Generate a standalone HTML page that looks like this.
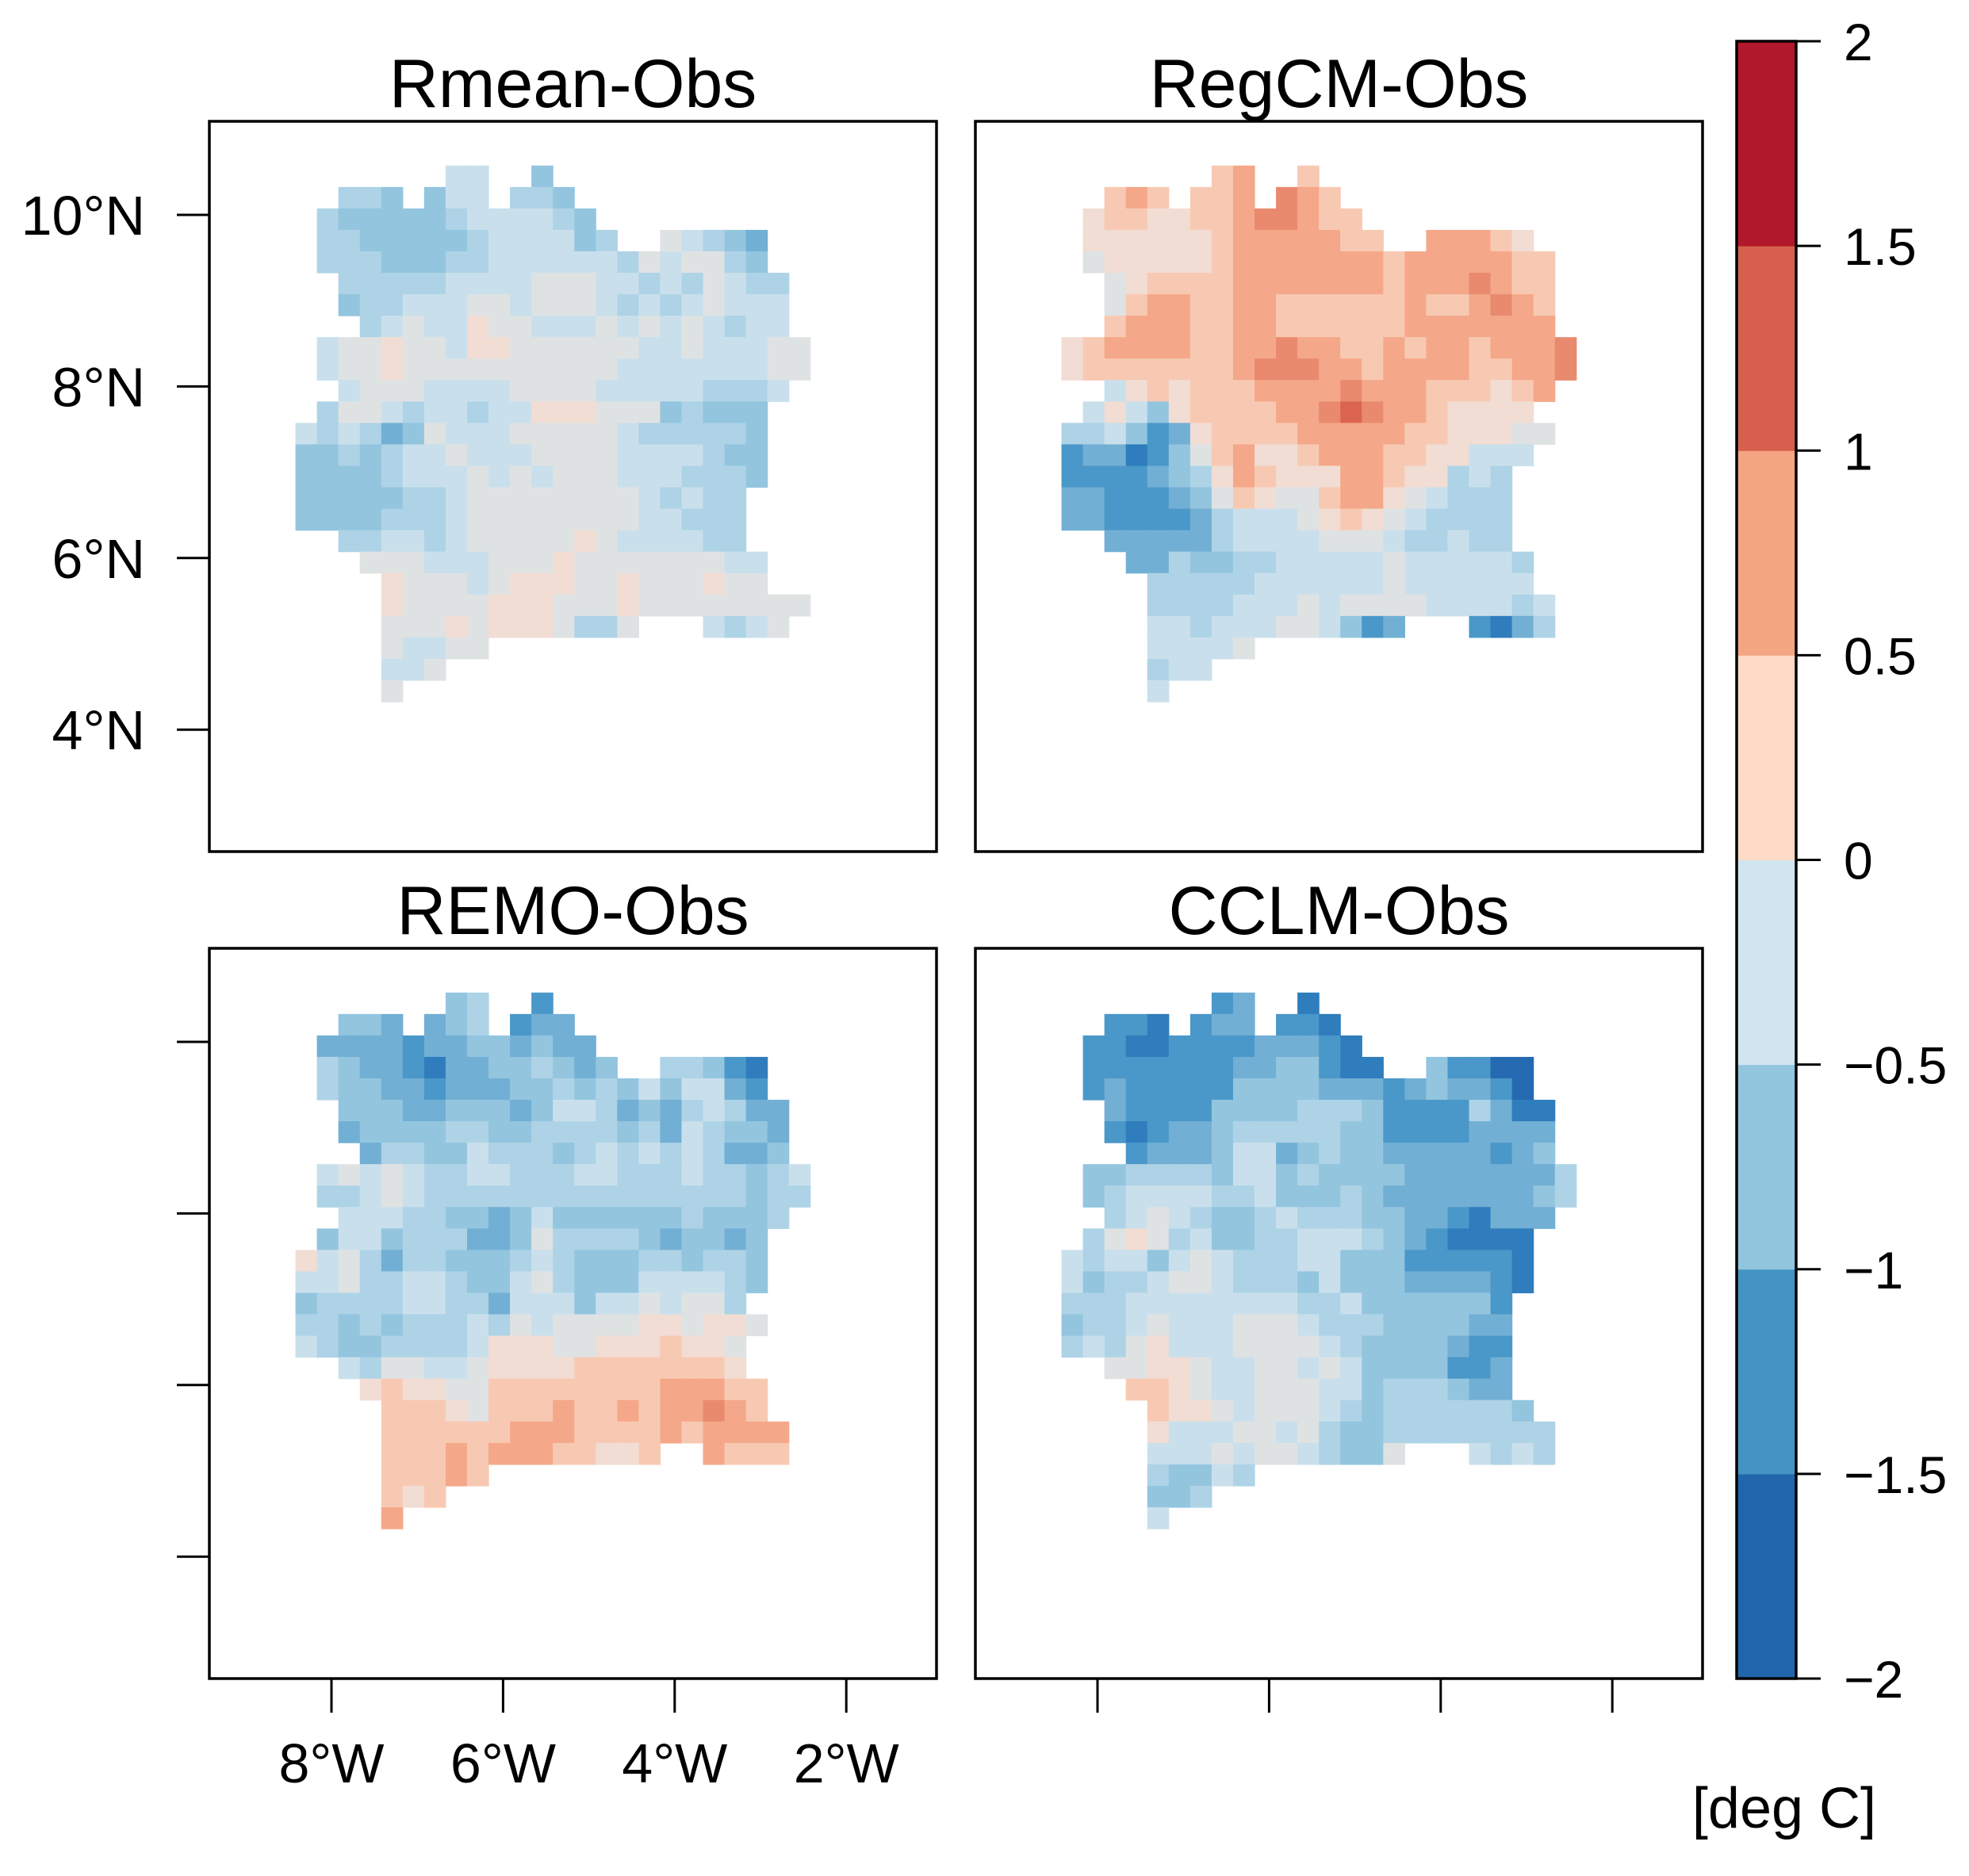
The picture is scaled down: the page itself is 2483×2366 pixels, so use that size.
<!DOCTYPE html>
<html><head><meta charset="utf-8"><style>
html,body{margin:0;padding:0;background:#fff}
svg{display:block}
text{font-family:"Liberation Sans",Arial,sans-serif;fill:#000}
</style></head><body>
<svg id="fig" width="2483" height="2366" viewBox="0 0 2483 2366" xmlns="http://www.w3.org/2000/svg"></svg>
<script>
// ---- data ----
const panelTitles = ["Rmean-Obs","RegCM-Obs","REMO-Obs","CCLM-Obs"];
const lonTicks = [-8,-6,-4,-2];
const lonTickLabels = ["8°W","6°W","4°W","2°W"];
const latTicks = [10,8,6,4];
const latTickLabels = ["10°N","8°N","6°N","4°N"];
const cbarBreaks = [-2,-1.5,-1,-0.5,0,0.5,1,1.5,2];
const cbarLabels = ["−2","−1.5","−1","−0.5","0","0.5","1","1.5","2"];
const cbarColors = ["#2166ac","#4393c3","#92c5de","#d1e5f0","#fddbc7","#f4a582","#d6604d","#b2182b"];
const gridLon0 = -8.42, gridLat0 = 10.575, gridStep = 0.25;
// cell code -> bias value (deg C)
const codeValues = {s:-1.85,r:-1.6,q:-1.35,o:-1.1,n:-0.85,m:-0.65,l:-0.4,g:-0.1,p:0.1,e:0.35,f:0.65,h:0.9,i:1.2};
const rmeanRows = [
".......ll..n............",
"..mmn.nll.mmn...........",
".mnnnnnmllllmn..........",
".mmnnnnnmllllnm..glmno..",
".mmmnnnmmllllllmglggmn..",
"..mmmmmllllgggllmlmglmm.",
"..nmmlllgglggglmlmlglll.",
"...mlgllpgglllglglglmll.",
".lggpgglppggggggllglllgg",
".lggpgggggggggglllllllgg",
"..lgggllllgggglllllmmml.",
".mgglmllmllpppgggnmnnn..",
"lmlmonglllggggglmmmmmn..",
"nnmnmllglllggggllllmnn..",
"nnnnmlllglglggglllmmmn...",
"nnnnnmmlgggggggglmlmm...",
"nnnnmmmlggggggggllmmm...",
"..mmllmlgggggpgllllmm...",
"...ggglllgggpgggggggll..",
"....pggglgpppggpgggpgg..",
"....pggggpppgggpgggggggg",
"....gggpgpppgmmg...lmlg.",
"....gllgg...............",
"....llg.................",
"....g..................."];
const regcmRows = [
".......ef..e............",
"..efe.eef.hfe...........",
".peeppeefhhfee..........",
".ppppppefffffee..fffep..",
".gpppppefffffffefffffee.",
"..gpeeeefffffffefffhfee.",
"..geffeeffeeeeeefeefhfe.",
"..efffeeffeeeeeefffffff.",
"peffffeeffhffeefeffefffh",
"peeeeeeefhhhffeffffeeffh",
"..lpepeeeffffhfffeeepef.",
".lplnpeeeeffhihffepppp..",
"mmlnqopeeeefffffeepppgg.",
"qoorqngefppefffeepplll..",
"qqqqonmpfepppffeppmlm...",
"ooqqqongepggeffpglmmm...",
"ooqqqqomlllgpepglmmmm...",
"..ooooomllllggglmmlmm...",
"...oomnnmmlllllglllllm..",
"....mmmmmllllllgllllll..",
"....mmmmlllglggggllllml.",
"....llmlllgglnqo...qrom.",
"....llllg...............",
"....mll.................",
"....l..................."];
const remoRows = [
".......nm..q............",
"..nno.onm.qoo...........",
".ooooqoonnonoo..........",
".mnooqroonnmnon..mmnqr..",
".mnnooqooonnmnmnlnlloq..",
"..nnnoonnnonllmonomlmoo.",
"..onnnnmmnnmmmmnmolmnno.",
"...ommnnlmmmnmlmlmlmoon.",
".lglglmmllmmmllmmmlmmnml",
".mmlglmmmmmmmmmmmmmmmnmm",
"..lllmmnnonlnnnnnnmnnnm.",
".nllnmmmoongmmmmnonnon..",
"plgmommnnnmlmnnnmmnmmn..",
"llgmmllmnnlgmnnnllllmn..",
"nmmmmllmmolllnllglggm...",
"mmnmnmmmlmglggggppgppg..",
"lmnnmmmmlpppggpppeppg...",
"..lmggllgppppeeeeeeep...",
"...peppggeeeeeeeefffee..",
"....eeepgeeefeefeffhfe..",
"....eeeeeefffeeeefeffff.",
"....eeefefffeeppe..feee.",
"....eeefe...............",
"....epe.................",
"....f..................."];
const cclmRows = [
".......qo..r............",
"..qqr.qoo.qqr...........",
".qqrrqqqqoooqr..........",
".qqqqqqqoonnqrr..nqqss..",
".qoqqqqqnnnnoooqonooqs..",
"..oqqqqnnnnmmmnqqqqmorr.",
"..qrqoonmmmmmnnqqqqoooo.",
"...qooonllonmnnoooooqon.",
".nnmmmmnllnmnnnnooooooom",
".nmllllmmlnnnmnooooooonm",
"..mlglmnnmlmmmnnooqrooo.",
".mgpgmlnnmmlllmnoqrrrr..",
"lmllnlglmmmllnnnqqqqqr..",
"lnmmlgglmmmnlnnnooooqr..",
"mmmllllllllmmlnnnnnnq...",
"nmmlglllggglmmmnnnnoo...",
"mlmgplllgggglmnnnnoqq...",
"..ggppgllgglglnnnnqqo...",
"...eepgllgggllnmmmnoo...",
"....eppglggglmnmmmmmmn..",
"....plllgglgmnnmmmmmmmm.",
"....lllglgglmnng...lmlm.",
"....mnnlm...............",
"....nnm.................",
"....l..................."];
const panelData = [rmeanRows, regcmRows, remoRows, cclmRows];

// ---- layout ----
const NS = "http://www.w3.org/2000/svg";
const svg = document.getElementById('fig');
const panelX = [264, 1230, 264, 1230];
const panelY = [153, 153, 1196, 1196];
const panelW = 917, panelH = 921;
const pxPerDeg = 108.2;
const lon8x = 418 - 264;
const lat10y = 271 - 153;
function xScale(p, lon){ return panelX[p] + lon8x + (lon + 8) * pxPerDeg; }
function yScale(p, lat){ return panelY[p] + lat10y - (lat - 10) * pxPerDeg; }

const anchors = [[-2,"#1f5fa8"],[-1.6,"#2f7dbc"],[-1.35,"#4a98c9"],[-1.1,"#72afd4"],[-0.85,"#93c5df"],[-0.65,"#aed3e6"],[-0.4,"#c9e0ec"],[-0.1,"#dfe2e3"],[0.1,"#f1ddd4"],[0.35,"#f8c9b2"],[0.65,"#f4a889"],[0.9,"#e98a6f"],[1.2,"#db6450"],[2,"#b2182b"]];
function hex2rgb(h){return [1,3,5].map(i=>parseInt(h.substr(i,2),16));}
function colorFor(v){
  if(v<=anchors[0][0]) return anchors[0][1];
  for(let i=1;i<anchors.length;i++){
    if(v<=anchors[i][0]){
      const [a,ca]=anchors[i-1],[b,cb]=anchors[i];
      const t=(v-a)/(b-a), A=hex2rgb(ca), B=hex2rgb(cb);
      return "rgb("+A.map((c,k)=>Math.round(c+(B[k]-c)*t)).join(",")+")";
    }
  }
  return anchors[anchors.length-1][1];
}
function mk(tag, attrs, parent){
  const e=document.createElementNS(NS,tag);
  for(const k in attrs) e.setAttribute(k, attrs[k]);
  (parent||svg).appendChild(e); return e;
}

for(let p=0;p<4;p++){
  const g = mk('g',{});
  
  
  const rows = panelData[p];
  for(let r=0;r<rows.length;r++){
    for(let c=0;c<rows[r].length;c++){
      const ch = rows[r][c];
      if(!(ch in codeValues)) continue;
      const v = codeValues[ch];
      const lonL = gridLon0 + c*gridStep, latT = gridLat0 - r*gridStep;
      const x1 = xScale(p, lonL), x2 = xScale(p, lonL+gridStep);
      const y1 = yScale(p, latT), y2 = yScale(p, latT-gridStep);
      const cell = mk('rect',{x:x1.toFixed(2),y:y1.toFixed(2),width:(x2-x1+0.6).toFixed(2),height:(y2-y1+0.6).toFixed(2),fill:colorFor(v)},g);
      
      
    }
  }
  const frame = mk('rect',{x:panelX[p],y:panelY[p],width:panelW,height:panelH,fill:'none',stroke:'#000','stroke-width':3.5},g);
  
  
  const title = mk('text',{x:panelX[p]+panelW/2,y:panelY[p]-18,'font-size':86,'text-anchor':'middle'},g);
  title.textContent = panelTitles[p];
  
  
  if(p===0||p===2){
    latTicks.forEach((lat,i)=>{
      const y=yScale(p,lat);
      const t=mk('line',{x1:panelX[p]-41,x2:panelX[p],y1:y,y2:y,stroke:'#000','stroke-width':3},g);
      
      
      if(p===0){
        const lb=mk('text',{x:183,y:y+25,'font-size':70,'text-anchor':'end'},g);
        lb.textContent=latTickLabels[i];
        
        
      }
    });
  }
  if(p===2||p===3){
    lonTicks.forEach((lon,i)=>{
      const x=xScale(p,lon);
      const t=mk('line',{x1:x,x2:x,y1:panelY[p]+panelH,y2:panelY[p]+panelH+43,stroke:'#000','stroke-width':3},g);
      
      
      if(p===2){
        const lb=mk('text',{x:x,y:2248,'font-size':70,'text-anchor':'middle'},g);
        lb.textContent=lonTickLabels[i];
        
        
      }
    });
  }
}

// colorbar
const cbX=2190, cbW=75, cbTop=52, cbBot=2117;
function cbY(v){ return cbBot - (v - cbarBreaks[0])/(cbarBreaks[cbarBreaks.length-1]-cbarBreaks[0])*(cbBot-cbTop); }
const cb = mk('g',{});


for(let i=0;i<cbarColors.length;i++){
  const y1=cbY(cbarBreaks[i+1]), y2=cbY(cbarBreaks[i]);
  const r=mk('rect',{x:cbX,y:y1,width:cbW,height:y2-y1+0.5,fill:cbarColors[i]},cb);
  
  
}
const cbf=mk('rect',{x:cbX,y:cbTop,width:cbW,height:cbBot-cbTop,fill:'none',stroke:'#000','stroke-width':3.5},cb);


cbarBreaks.forEach((v,i)=>{
  const y=cbY(v);
  const t=mk('line',{x1:cbX+cbW,x2:2296,y1:y,y2:y,stroke:'#000','stroke-width':3},cb);
  
  
  const lb=mk('text',{x:2325,y:y+24,'font-size':66},cb);
  lb.textContent=cbarLabels[i];
  
  
});
const unit=mk('text',{x:2250,y:2305,'font-size':72,'text-anchor':'middle'});
unit.textContent='[deg C]';


</script>
</body></html>
